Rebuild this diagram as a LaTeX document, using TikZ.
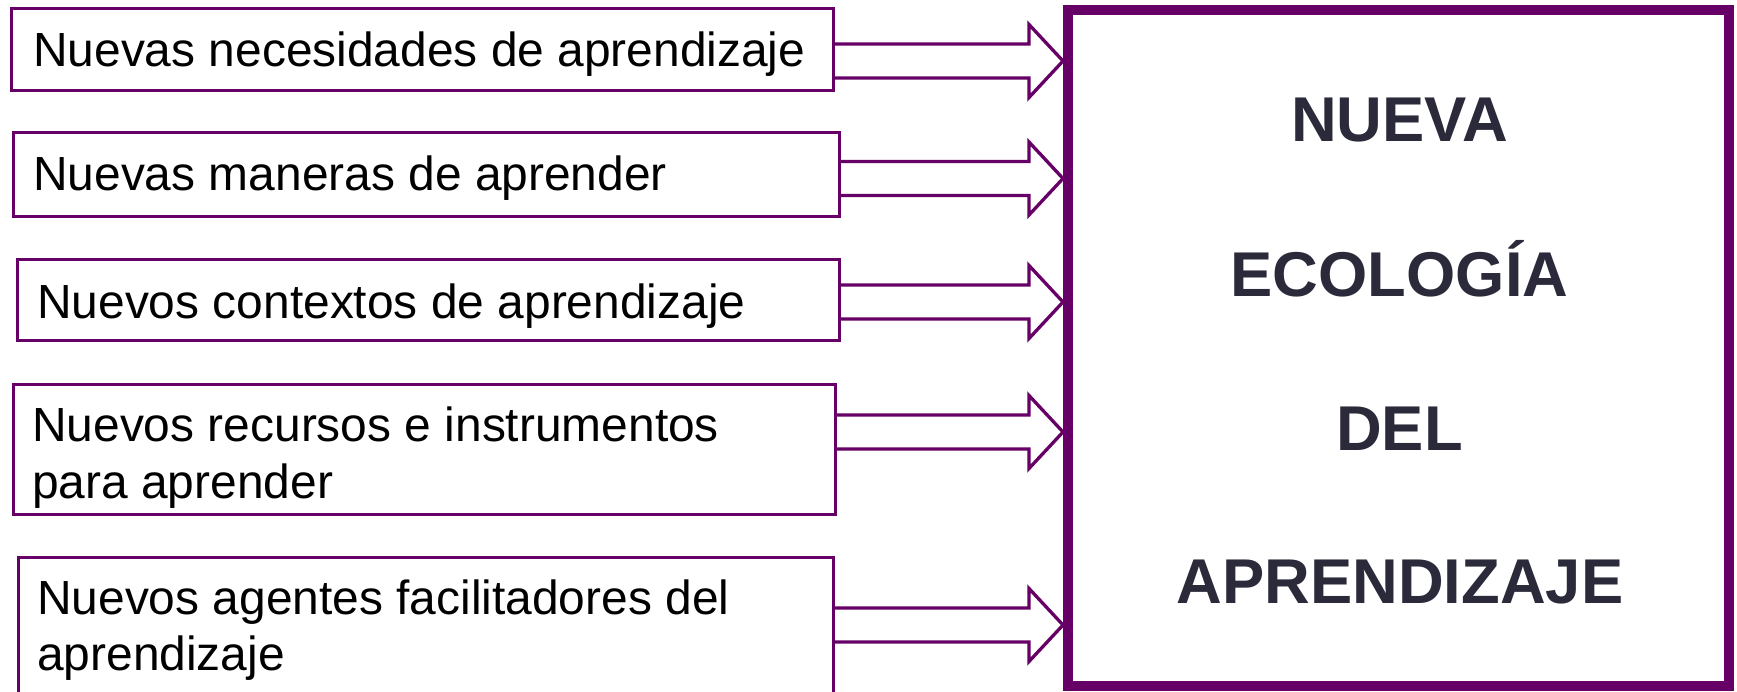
\documentclass[tikz,border=0pt]{standalone}
\usepackage{fontspec}
\setmainfont{Liberation Sans}
\usetikzlibrary{calc}
\definecolor{purp}{RGB}{102,0,102}
\definecolor{ink}{RGB}{43,42,58}
\begin{document}
\begin{tikzpicture}[x=1pt,y=-1pt,
  smallbox/.style={draw=purp, line width=3pt, rectangle, inner sep=0pt, outer sep=0pt},
  bigbox/.style={draw=purp, line width=10pt, rectangle, inner sep=0pt},
  lbl/.style={anchor=base west, inner sep=0pt, font=\fontsize{47.9}{57}\selectfont, text=black},
  biglbl/.style={anchor=base, inner sep=0pt, font=\fontsize{63.3}{70}\selectfont\bfseries, text=ink},
  blockarrow/.style={draw=purp, line width=3.3pt, line join=miter}
]
\clip (0,0) rectangle (1737,692);
\fill[white] (0,0) rectangle (1737,692);

% left boxes
\node[smallbox, minimum width=822pt, minimum height=82pt] (b1) at (422,50) {};
\node[smallbox, minimum width=826pt, minimum height=84pt] (b2) at (426,175) {};
\node[smallbox, minimum width=822pt, minimum height=81pt] (b3) at (428,300.5) {};
\node[smallbox, minimum width=822pt, minimum height=130pt] (b4) at (424,449) {};
\node[smallbox, minimum width=815pt, minimum height=163pt] (b5) at (425.5,638.5) {};

% texts
\node[lbl] (t1) at (33,67) {Nuevas necesidades de aprendizaje};
\node[lbl] (t2) at (33,191) {Nuevas maneras de aprender};
\node[lbl] (t3) at (37,319) {Nuevos contextos de aprendizaje};
\node[lbl] (t4a) at (32,441) {Nuevos recursos e instrumentos};
\node[lbl] (t4b) at (32,498) {para aprender};
\node[lbl] (t5a) at (37,614) {Nuevos agentes facilitadores del};
\node[lbl] (t5b) at (37,670) {aprendizaje};

% big box
\node[bigbox, minimum width=661pt, minimum height=676pt] (big) at (1398.5,348) {};
\node[biglbl] (n1) at (1399.5,142) {NUEVA};
\node[biglbl] (n2) at (1399.5,297) {ECOLOGÍA};
\node[biglbl] (n3) at (1399.5,450) {DEL};
\node[biglbl] (n4) at (1400,603) {APRENDIZAJE};

% block arrows
\foreach \i/\y in {1/61,2/178.5,3/302,4/432,5/625}{
  \coordinate (s\i) at (b\i.east |- 0,\y);
  \coordinate (e\i) at (big.west |- s\i);
  \draw[blockarrow] ($(s\i)+(0,-17)$) -- ($(e\i)+(-34,-17)$) -- ($(e\i)+(-34,-36.5)$)
    -- (e\i) -- ($(e\i)+(-34,36.5)$) -- ($(e\i)+(-34,17)$) -- ($(s\i)+(0,17)$);
}
% redraw big box border over arrow tips
\draw[purp, line width=10pt] (big.north west) ++(5,5) rectangle ($(big.south east)+(-5,-5)$);
\end{tikzpicture}
\end{document}
